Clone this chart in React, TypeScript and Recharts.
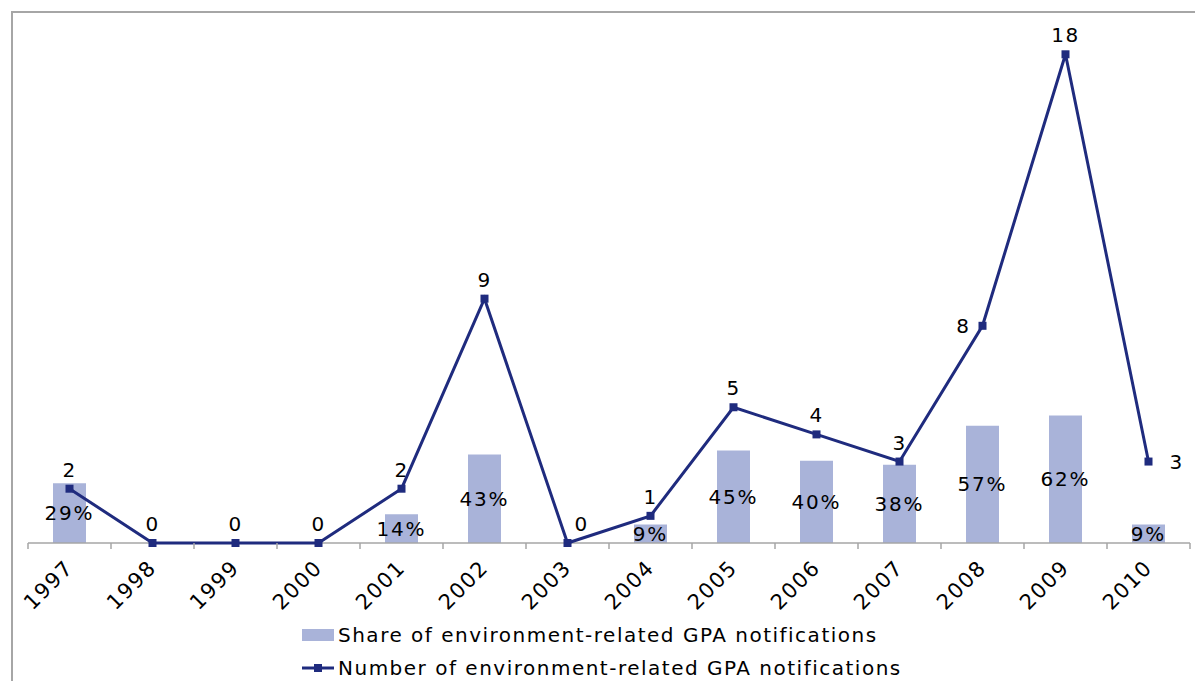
import React from "react";
import {
    ComposedChart,
    Bar,
    Line,
    XAxis,
    YAxis,
    Legend,
    LabelList,
} from "recharts";

const years = ["1997", "1998", "1999", "2000", "2001", "2002", "2003", "2004", "2005", "2006", "2007", "2008", "2009", "2010"];
const shareValues = [29, 0, 0, 0, 14, 43, 0, 9, 45, 40, 38, 57, 62, 9];
const countValues = [2, 0, 0, 0, 2, 9, 0, 1, 5, 4, 3, 8, 18, 3];

const shareName = "Share of environment-related GPA notifications";
const countName = "Number of environment-related GPA notifications";

const data = years.map((year, i) => ({
    year,
    share: shareValues[i],
    count: countValues[i],
}));

const W = 1195;
const H = 681;
const MARGIN = { top: 0, right: 5, bottom: 78, left: 28 };
const BAND = (W - MARGIN.left - MARGIN.right) / years.length;

const BAR_COLOR = "#a9b3d9";
const LINE_COLOR = "#1f2b7e";
const AXIS_COLOR = "#a6a6a6";
const FONT = "'DejaVu Sans', Verdana, sans-serif";

// a few count labels are nudged away from the default spot above the point
const countLabelSide: Record<string, "left" | "right" | "topRight"> = {
    "2003": "topRight",
    "2008": "left",
    "2010": "right",
};

function YearTick(props: any) {
    const { x, y, payload, index } = props;
    const left = x - BAND / 2;
    return (
        <g>
            <line x1={left} y1={y} x2={left} y2={y + 6} stroke={AXIS_COLOR} strokeWidth={1.5} />
            {index === years.length - 1 && (
                <line x1={x + BAND / 2} y1={y} x2={x + BAND / 2} y2={y + 6} stroke={AXIS_COLOR} strokeWidth={1.5} />
            )}
            <text
                transform={`translate(${x + 5},${y + 26}) rotate(-45)`}
                textAnchor="end"
                fontFamily={FONT}
                fontSize={21}
                letterSpacing={1.5}
                fill="#000"
            >
                {payload.value}
            </text>
        </g>
    );
}

function SquareDot(props: any) {
    const { cx, cy, index } = props;
    return <rect key={`dot-${index}`} x={cx - 4} y={cy - 4} width={8} height={8} fill={LINE_COLOR} />;
}

function CountLabel(props: any) {
    const { x, y, value, index } = props;
    const side = countLabelSide[years[index]];
    let tx = x;
    let ty = y - 12;
    let anchor: "middle" | "start" | "end" = "middle";
    if (side === "left") {
        tx = x - 12;
        ty = y + 7;
        anchor = "end";
    } else if (side === "right") {
        tx = x + 21;
        ty = y + 7;
        anchor = "start";
    } else if (side === "topRight") {
        tx = x + 14;
    }
    return (
        <text x={tx} y={ty} textAnchor={anchor} fontFamily={FONT} fontSize={20} letterSpacing={1.5} fill="#000">
            {value}
        </text>
    );
}

function ShareLabel(props: any) {
    const { x, y, width, height, value } = props;
    if (!value) return null;
    return (
        <text
            x={x + width / 2}
            y={y + height / 2 + 7}
            textAnchor="middle"
            fontFamily={FONT}
            fontSize={20}
            letterSpacing={1.8}
            fill="#000"
        >
            {`${value}%`}
        </text>
    );
}

function ChartLegend() {
    const rowStyle: React.CSSProperties = {
        display: "flex",
        alignItems: "center",
        height: 33,
        fontFamily: FONT,
        fontSize: 20,
        letterSpacing: 1.5,
        color: "#000",
        whiteSpace: "nowrap",
    };
    return (
        <div>
            <div style={rowStyle}>
                <svg width={36} height={14} style={{ marginRight: 2 }}>
                    <rect x={2} y={1} width={32} height={12} fill={BAR_COLOR} />
                </svg>
                <span>{shareName}</span>
            </div>
            <div style={rowStyle}>
                <svg width={36} height={14} style={{ marginRight: 2 }}>
                    <line x1={2} y1={7} x2={34} y2={7} stroke={LINE_COLOR} strokeWidth={3} />
                    <rect x={14} y={3} width={8} height={8} fill={LINE_COLOR} />
                </svg>
                <span>{countName}</span>
            </div>
        </div>
    );
}

export default function App() {
    const lineZ: any = { zIndex: 600 };
    return (
        <div style={{ position: "absolute", left: 0, top: 0, width: W, height: H, background: "#fff", overflow: "hidden" }}>
            <div
                style={{
                    position: "absolute",
                    left: 11,
                    top: 11,
                    width: W,
                    height: H,
                    borderLeft: `2px solid ${AXIS_COLOR}`,
                    borderTop: `2px solid ${AXIS_COLOR}`,
                }}
            />
            <div style={{ position: "absolute", left: 0, top: 0 }}>
                <ComposedChart width={W} height={H} data={data} margin={MARGIN}>
                    <XAxis
                        dataKey="year"
                        height={60}
                        interval={0}
                        axisLine={{ stroke: AXIS_COLOR, strokeWidth: 1.5 }}
                        tickLine={false}
                        tickSize={0}
                        tickMargin={0}
                        tick={<YearTick />}
                    />
                    <YAxis yAxisId="count" domain={[0, 20]} hide />
                    <YAxis yAxisId="share" orientation="right" domain={[0, 264]} hide />
                    <Legend
                        layout="horizontal"
                        verticalAlign="middle"
                        align="center"
                        wrapperStyle={{ left: 300, top: 618, width: 640 }}
                        content={<ChartLegend />}
                    />
                    <Bar yAxisId="share" dataKey="share" name={shareName} fill={BAR_COLOR} barSize={33} isAnimationActive={false}>
                        <LabelList dataKey="share" content={<ShareLabel />} />
                    </Bar>
                    <Line
                        yAxisId="count"
                        type="linear"
                        dataKey="count"
                        name={countName}
                        stroke={LINE_COLOR}
                        strokeWidth={3}
                        dot={<SquareDot />}
                        activeDot={false}
                        isAnimationActive={false}
                        {...lineZ}
                    >
                        <LabelList dataKey="count" content={<CountLabel />} />
                    </Line>
                </ComposedChart>
            </div>
        </div>
    );
}
